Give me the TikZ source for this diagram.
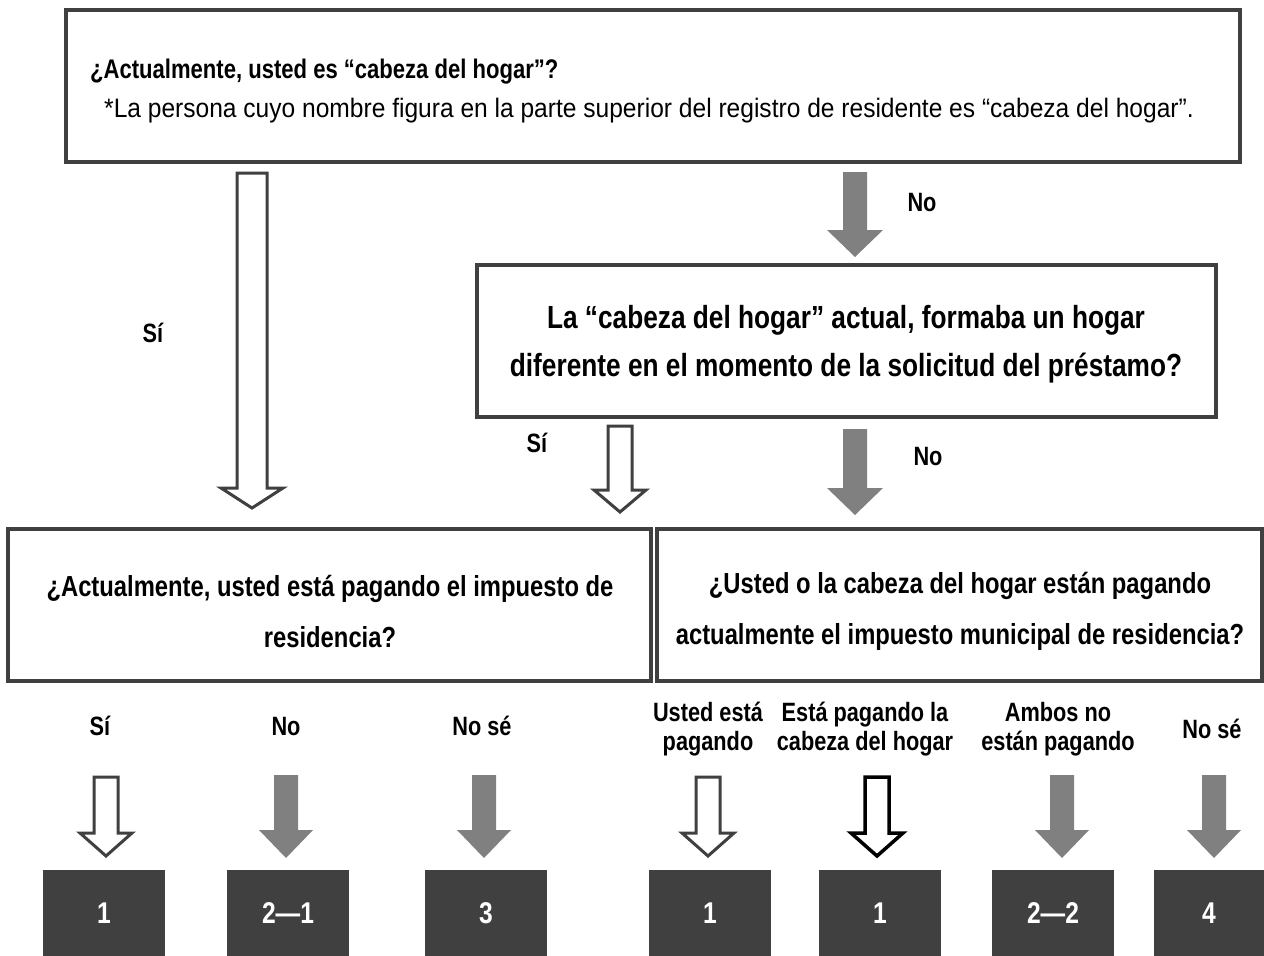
\documentclass[tikz,border=0pt]{standalone}
\usepackage{fontspec}
\setmainfont{Liberation Sans}[FakeStretch=0.82]
\newfontfamily\notefont{Liberation Sans}[FakeStretch=0.92]
\definecolor{dk}{HTML}{404040}
\definecolor{gr}{HTML}{808080}
\newcommand{\fsz}[1]{\fontsize{#1}{#1}\selectfont}
% block arrow: style, cx, ytop, yhead, ytip, shaft half width, head half width
\newcommand{\blockarr}[7]{\draw[#1] ({#2-#6},#3) -- ({#2+#6},#3) -- ({#2+#6},#4) -- ({#2+#7},#4) -- (#2,#5) -- ({#2-#7},#4) -- ({#2-#6},#4) -- cycle;}
\begin{document}
\begin{tikzpicture}[x=1pt,y=-1pt,
  qbox/.style={draw=dk, line width=3.5pt, fill=white},
  res/.style={fill=dk, text=white, font=\bfseries\fsz{30}, minimum height=86pt, inner sep=0pt},
  hollow/.style={draw=dk, line width=3pt, fill=white, line join=miter},
  hollowk/.style={draw=black, line width=3.5pt, fill=white, line join=miter},
  grarr/.style={fill=gr, draw=none},
  lbl/.style={font=\bfseries\fsz{26.5}, align=center, inner sep=0pt},
  qtxt/.style={align=center, inner sep=0pt}]
\useasboundingbox (0,0) rectangle (1264,956);
\fill[white] (0,0) rectangle (1264,956);

% top question
\draw[qbox] (66,10) rectangle (1240,162);
\node[anchor=west, inner sep=0pt, font=\bfseries\fsz{26.9}] (t1) at (90,72) {¿Actualmente, usted es “cabeza del hogar”?};
\node[anchor=west, inner sep=0pt, font=\notefont\fsz{26.7}] (t2) at (104,111) {*La persona cuyo nombre figura en la parte superior del registro de residente es “cabeza del hogar”.};

% arrows from top
\blockarr{hollow}{252}{173}{488}{508}{15}{31}
\blockarr{grarr}{855}{172}{230}{257}{12}{28}
\node[lbl] (no1) at (922,203) {No};
\node[lbl] (si1) at (153,333) {Sí};

% second question
\draw[qbox] (477,265) rectangle (1216,417);
\node[qtxt, font=\bfseries\fsz{32}] (t3) at (846,344) {La “cabeza del hogar” actual, formaba un hogar\\[16pt]diferente en el momento de la solicitud del préstamo?};

\blockarr{hollow}{620}{426}{490}{512}{12}{26}
\blockarr{grarr}{855}{429}{488}{515}{12}{28}
\node[lbl] (si2) at (537,443) {Sí};
\node[lbl] (no2) at (928,457) {No};

% third level questions
\draw[qbox] (8,529) rectangle (651,681);
\draw[qbox] (657,529) rectangle (1262,681);
\node[qtxt, font=\bfseries\fsz{29}] (t4) at (330,611) {¿Actualmente, usted está pagando el impuesto de\\[22pt]residencia?};
\node[qtxt, font=\bfseries\fsz{29}] (t5) at (960,611) {¿Usted o la cabeza del hogar están pagando\\[22pt]actualmente el impuesto municipal de residencia?};

% answer labels
\node[lbl, anchor=base] (a1) at (100,735) {Sí};
\node[lbl, anchor=base] (a2) at (286,735) {No};
\node[lbl, anchor=base] (a3) at (482,735) {No sé};
\node[lbl] (a4) at (708,729) {Usted está\\[2pt]pagando};
\node[lbl] (a5) at (865,729) {Está pagando la\\[2pt]cabeza del hogar};
\node[lbl] (a6) at (1058,729) {Ambos no\\[2pt]están pagando};
\node[lbl, anchor=base] (a7) at (1212,738) {No sé};

% answer arrows
\blockarr{hollow}{106}{777}{833}{856}{12}{26}
\blockarr{grarr}{286}{775}{830}{858}{12}{27}
\blockarr{grarr}{484}{775}{830}{858}{12}{27}
\blockarr{hollow}{708}{777}{833}{856}{12}{26}
\blockarr{hollowk}{877}{777}{833}{856}{12}{26}
\blockarr{grarr}{1062}{775}{830}{858}{12}{27}
\blockarr{grarr}{1214}{775}{830}{858}{12}{27}

% results
\node[res, minimum width=122pt] (r1) at (104,913) {1};
\node[res, minimum width=122pt] (r2) at (288,913) {2—1};
\node[res, minimum width=122pt] (r3) at (486,913) {3};
\node[res, minimum width=122pt] (r4) at (710,913) {1};
\node[res, minimum width=122pt] (r5) at (880,913) {1};
\node[res, minimum width=122pt] (r6) at (1053,913) {2—2};
\node[res, minimum width=110pt] (r7) at (1209,913) {4};
\end{tikzpicture}
\end{document}
